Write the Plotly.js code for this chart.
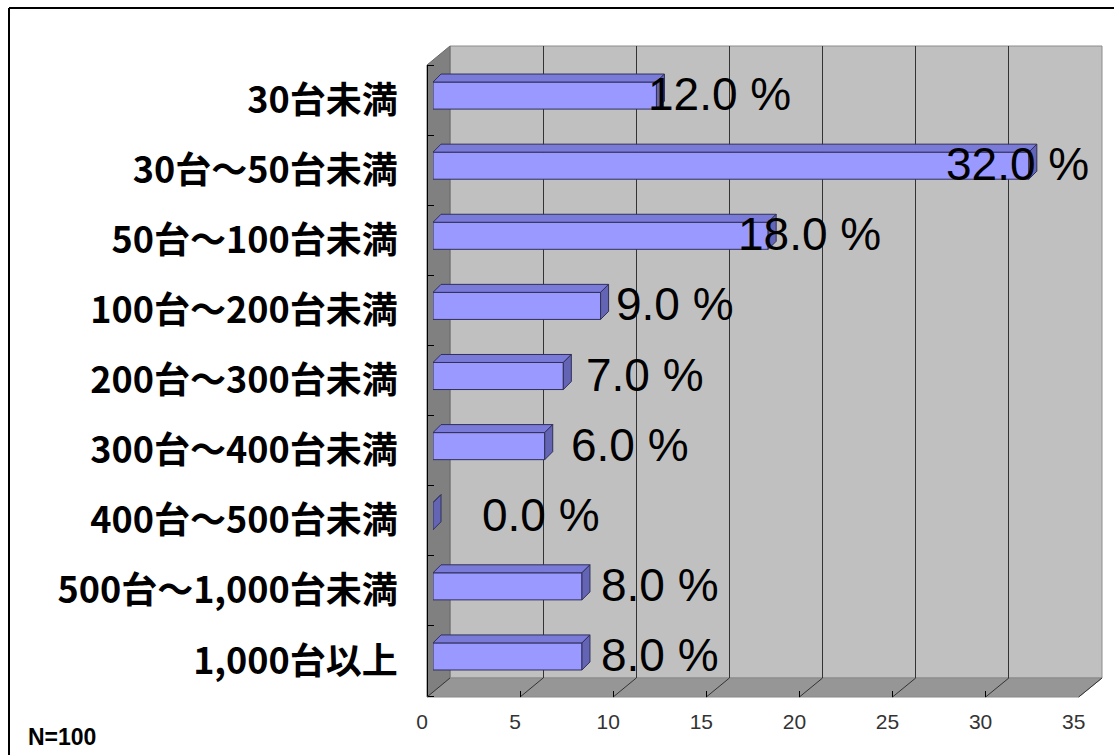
<!DOCTYPE html>
<html><head><meta charset="utf-8">
<script src="https://cdn.plot.ly/plotly-3.0.1.min.js"></script>
<style>html,body{margin:0;padding:0;background:#fff}#chart{width:1114px;height:755px}</style>
</head><body><div id="chart"></div>
<script>
// ---- data ----
const categories = ['30台未満','30台～50台未満','50台～100台未満','100台～200台未満','200台～300台未満','300台～400台未満','400台～500台未満','500台～1,000台未満','1,000台以上'];
const values = [12.0, 32.0, 18.0, 9.0, 7.0, 6.0, 0.0, 8.0, 8.0];
const xTicks = [0, 5, 10, 15, 20, 25, 30, 35];
const sampleNote = 'N=100';

// ---- geometry (pixels) ----
const W = 1114, H = 755;
const px = x => x / W, py = y => 1 - y / H;
const BACK_L = 450, BACK_R = 1102, BACK_T = 46, BACK_B = 678;
const FRONT_L = 427, FRONT_B = 697, FRONT_T = 65;
const BAR_L = 433, UNIT = 18.62;
const ROW_T = 65, ROW_B = 696;
const LABEL_L = 541, LABEL_UNIT = 14.9;
const XMAX = 35;
const FACE_TOP = -0.257, FACE_H = 0.386;
const DX = 8 / UNIT, DY = 8 / ((ROW_B - ROW_T) / categories.length);

const idx = categories.map((c, i) => i);

// 3D faces built from the values
const topX = [], topY = [], endX = [], endY = [];
values.forEach((v, i) => {
  const t = i + FACE_TOP, b = i + FACE_TOP + FACE_H;
  topX.push(0, v, v + DX, DX, 0, null);
  topY.push(t, t, t - DY, t - DY, t, null);
  endX.push(v, v, v + DX, v + DX, v, null);
  endY.push(t, b, b - DY, t - DY, t, null);
});

const edge = '#30305a';
const traces = [
  {type: 'scatter', x: [], y: [], xaxis: 'x', yaxis: 'y', hoverinfo: 'skip', showlegend: false},
  {type: 'bar', orientation: 'h', x: values, y: idx, xaxis: 'x2', yaxis: 'y2',
   width: FACE_H, offset: FACE_TOP,
   marker: {color: '#9999ff', line: {color: edge, width: 1}}, hoverinfo: 'skip', showlegend: false},
  {type: 'scatter', mode: 'lines', x: topX, y: topY, xaxis: 'x2', yaxis: 'y2', fill: 'toself',
   fillcolor: '#7a7ad8', line: {color: edge, width: 1}, hoverinfo: 'skip', showlegend: false, cliponaxis: false},
  {type: 'scatter', mode: 'lines', x: endX, y: endY, xaxis: 'x2', yaxis: 'y2', fill: 'toself',
   fillcolor: '#6464b4', line: {color: edge, width: 1}, hoverinfo: 'skip', showlegend: false, cliponaxis: false},
  {type: 'scatter', x: [], y: [], xaxis: 'x3', yaxis: 'y3', hoverinfo: 'skip', showlegend: false},
  {type: 'scatter', x: [], y: [], xaxis: 'x4', yaxis: 'y2', hoverinfo: 'skip', showlegend: false}
];

// walls
const shapes = [
  {type: 'rect', xref: 'paper', yref: 'paper', x0: px(BACK_L), x1: px(BACK_R), y0: py(BACK_B), y1: py(BACK_T),
   fillcolor: '#c0c0c0', line: {color: '#8c8c8c', width: 1}, layer: 'below'},
  {type: 'path', xref: 'paper', yref: 'paper', layer: 'below',
   path: `M${px(FRONT_L)},${py(FRONT_T)} L${px(BACK_L)},${py(BACK_T)} L${px(BACK_L)},${py(BACK_B)} L${px(FRONT_L)},${py(FRONT_B)} Z`,
   fillcolor: '#808080', line: {color: '#6a6a6a', width: 1}},
  {type: 'path', xref: 'paper', yref: 'paper', layer: 'below',
   path: `M${px(BACK_L)},${py(BACK_B)} L${px(BACK_R)},${py(BACK_B)} L${px(FRONT_L + XMAX * UNIT)},${py(FRONT_B)} L${px(FRONT_L)},${py(FRONT_B)} Z`,
   fillcolor: '#969696', line: {color: '#8a8a8a', width: 1}},
  // chart border (top and left visible)
  {type: 'line', xref: 'paper', yref: 'paper', x0: px(9), x1: 1, y0: py(8), y1: py(8), line: {color: '#000', width: 2}},
  {type: 'line', xref: 'paper', yref: 'paper', x0: px(9), x1: px(9), y0: py(8), y1: 0, line: {color: '#000', width: 2}}
];
xTicks.forEach(t => {
  const bx = BACK_L + t * (BACK_R - BACK_L) / XMAX;
  const fx = FRONT_L + t * UNIT;
  shapes.push({type: 'line', xref: 'paper', yref: 'paper', layer: 'below',
    x0: px(bx), y0: py(BACK_B), x1: px(fx), y1: py(FRONT_B), line: {color: '#333', width: 1}});
});

const annotations = values.map((v, i) => ({
  xref: 'x4', yref: 'y2', x: v, y: i, text: v.toFixed(1) + ' %', showarrow: false,
  xanchor: 'center', yanchor: 'middle', yshift: 6,
  font: {family: 'Liberation Sans, Arial, sans-serif', size: 46, color: '#000'}
}));
annotations.push({xref: 'paper', yref: 'paper', x: px(26), y: py(737), xanchor: 'left', yanchor: 'middle',
  text: sampleNote, showarrow: false,
  font: {family: 'Liberation Sans, Arial, sans-serif', size: 23, color: '#000', weight: 'bold'}});

const boundaries = [];
for (let k = 0; k <= categories.length; k++) boundaries.push(k - 0.5);

const layout = {
  width: W, height: H, margin: {l: 0, r: 0, t: 0, b: 0},
  paper_bgcolor: '#fff', plot_bgcolor: 'rgba(0,0,0,0)', showlegend: false,
  xaxis: {domain: [px(BACK_L), px(BACK_R)], range: [0, XMAX], tickvals: xTicks, showgrid: true,
          gridcolor: '#333', gridwidth: 1, showticklabels: false, ticks: '', zeroline: false, anchor: 'y'},
  yaxis: {domain: [py(BACK_B), py(BACK_T)], range: [0, 1], visible: false, anchor: 'x'},
  xaxis2: {domain: [px(BAR_L), px(BAR_L + XMAX * UNIT)], range: [0, XMAX], visible: false, anchor: 'y2'},
  yaxis2: {domain: [py(ROW_B), py(ROW_T)], range: [categories.length - 0.5, -0.5],
           tickvals: idx, ticktext: categories, ticks: '', showgrid: false, zeroline: false,
           anchor: 'free', position: px(FRONT_L), side: 'left',
           showline: true, linecolor: '#000', linewidth: 1,
           minor: {tickvals: boundaries, ticks: 'inside', ticklen: 6, tickcolor: '#000', tickwidth: 1, showgrid: false},
           ticklabelstandoff: 22,
           tickfont: {family: 'Noto Sans CJK JP, sans-serif', size: 36, color: '#000', weight: 'bold'}},
  xaxis3: {domain: [px(FRONT_L), px(FRONT_L + XMAX * UNIT)], range: [0, XMAX], tickvals: xTicks,
           ticks: 'inside', ticklen: 6, tickcolor: '#000', tickwidth: 1, showline: false, showgrid: false,
           zeroline: false, anchor: 'y3', ticklabelshift: -5, ticklabelstandoff: 10,
           tickfont: {family: 'Liberation Sans, Arial, sans-serif', size: 21, color: '#333'}},
  yaxis3: {domain: [py(FRONT_B), py(FRONT_B) + 0.02], range: [0, 1], visible: false, anchor: 'x3'},
  xaxis4: {domain: [px(LABEL_L), px(LABEL_L + XMAX * LABEL_UNIT)], range: [0, XMAX], visible: false, anchor: 'y2'},
  shapes: shapes,
  annotations: annotations
};

Plotly.newPlot('chart', traces, layout, {displayModeBar: false, staticPlot: true});
</script>
</body></html>
